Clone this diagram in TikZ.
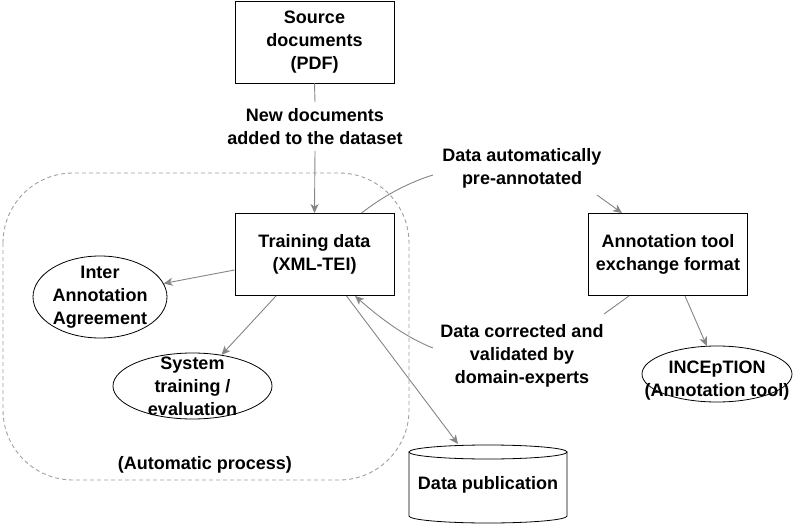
\documentclass[tikz,border=0pt]{standalone}
\usepackage{fontspec}
\setmainfont{Liberation Sans}
\usetikzlibrary{arrows.meta,shapes.geometric}
\definecolor{edgec}{HTML}{858585}
\definecolor{dashc}{HTML}{A0A0A0}
\begin{document}
\begin{tikzpicture}[x=1pt,y=1pt,
  txt/.style={font=\bfseries\fontsize{18}{23}\selectfont, align=center, inner sep=0},
  box/.style={draw=black, line width=0.9pt, minimum width=159, minimum height=82, inner sep=0},
  ell/.style={draw=black, ellipse, line width=0.8pt, inner sep=0},
  conn/.style={draw=edgec, line width=0.9pt},
  arr/.style={conn, -{Stealth[length=9pt,width=8pt,inset=2.5pt]}}]
\useasboundingbox (0,0) rectangle (801,-527);
% dashed group
\draw[dashc, line width=0.9pt, dash pattern=on 4pt off 3pt, rounded corners=70] (3,-173) rectangle (409,-480);
\node[txt] (proc) at (205,-465) {(Automatic process)};
% boxes
\node[box,txt] (src) at (314.5,-42) {Source\\documents\\(PDF)};
\node[box,txt] (train) at (314.5,-254.5) {Training data\\(XML-TEI)};
\node[box,txt] (annot) at (668,-254.5) {Annotation tool\\exchange format};
% ellipses
\node[ell, minimum width=134, minimum height=82] (inter) at (100,-297) {};
\node[txt] (intert) at (inter) {Inter\\Annotation\\Agreement};
\node[ell, minimum width=159, minimum height=66] (sys) at (192.5,-386) {};
\node[txt] (syst) at (sys) {System\\training /\\evaluation};
\node[ell, minimum width=150, minimum height=56] (incep) at (717,-374) {};
\node[txt] (incept) at (717,-381) {INCEpTION\\(Annotation tool)};
% cylinder
\draw[black, line width=0.8pt] (409,-452) -- (409,-516) arc[start angle=180, end angle=360, x radius=79, y radius=7] -- (567,-452);
\draw[black, line width=0.8pt] (488,-452) ellipse [x radius=79, y radius=7];
\node[txt] (pub) at (488,-485) {Data publication};
\coordinate (pubtop) at (458,-444);
% edge labels
\node[txt] (newdoc) at (315,-126.5) {New documents\\added to the dataset};
\node[txt] (autolbl) at (522,-168) {Data automatically\\pre-annotated};
\node[txt] (corr) at (522,-356) {Data corrected and\\validated by\\domain-experts};
% connectors
\draw[conn] (src.south) -- ([yshift=6]newdoc.north);
\draw[arr] ([yshift=-6]newdoc.south) -- (train.north);
\draw[conn] ([xshift=47]train.north) .. controls +(23,18) and +(-23,-7) .. ([shift={(-89,-7)}]autolbl.center);
\draw[arr] ([shift={(75,-27)}]autolbl.center) -- ([xshift=-46]annot.north);
\draw[conn] ([xshift=-39]annot.south) -- ([shift={(82,42)}]corr.center);
\draw[arr] ([shift={(-89,8)}]corr.center) .. controls +(-28,11) and +(25,-22) .. ([xshift=40.5]train.south);
\draw[arr] ([yshift=-15.5]train.west) -- (inter.12);
\draw[arr] ([xshift=-38.5]train.south) -- (sys.47);
\draw[arr] ([xshift=32]train.south) -- (pubtop);
\draw[arr] ([xshift=17]annot.south) -- (incep.110);
\end{tikzpicture}
\end{document}
